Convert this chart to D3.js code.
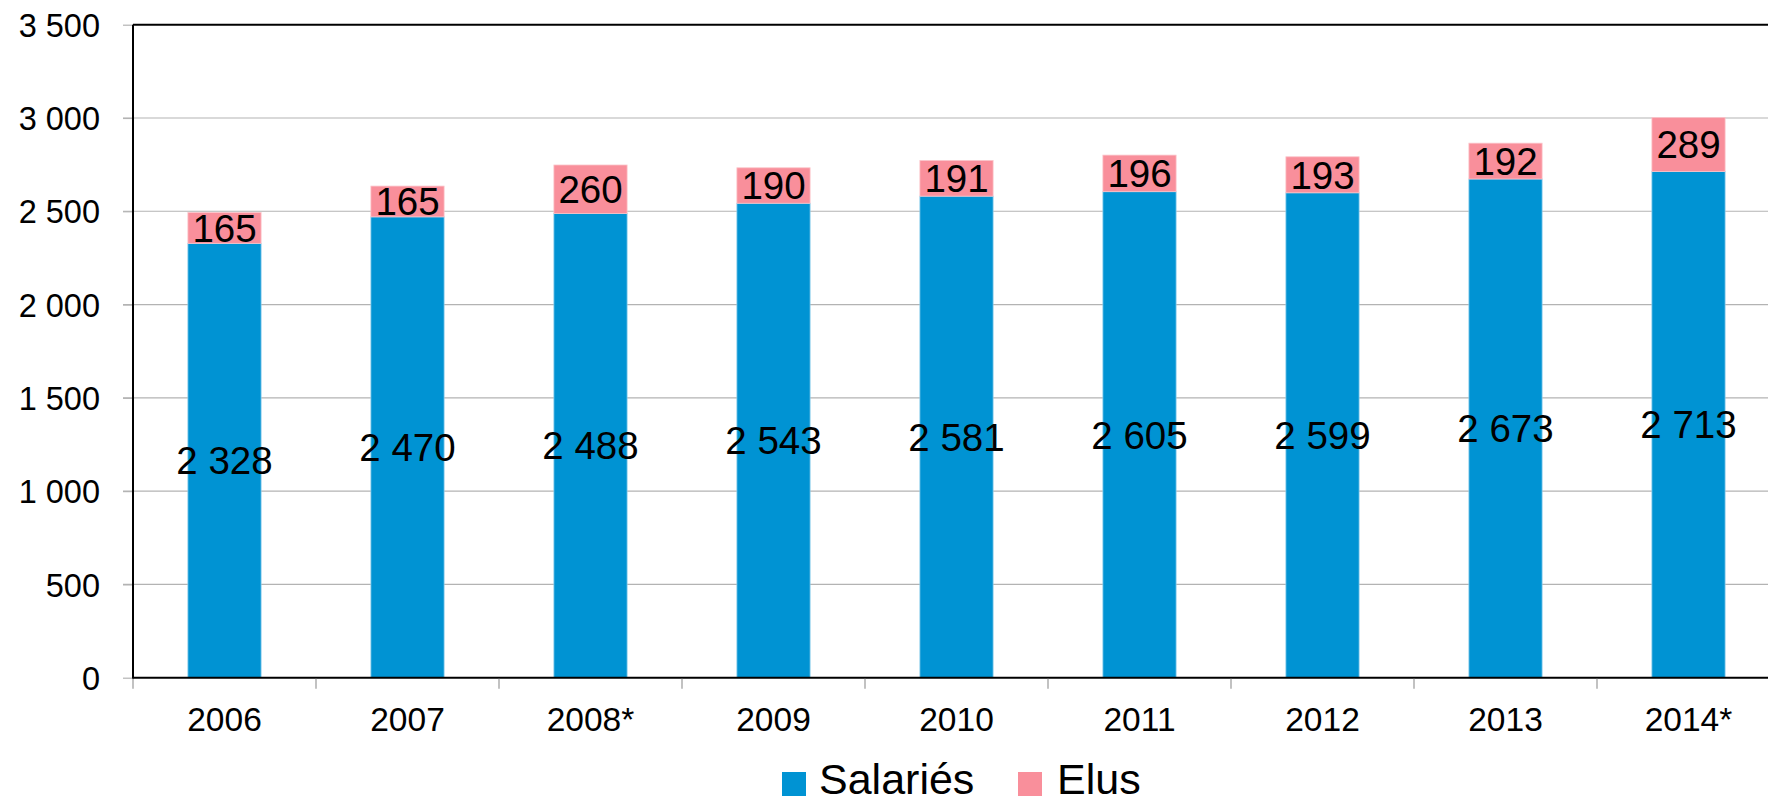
<!DOCTYPE html>
<html>
<head>
<meta charset="utf-8">
<script src="https://cdn.jsdelivr.net/npm/d3@7"></script>
<style>
  html, body { margin: 0; padding: 0; background: #ffffff; overflow: hidden; }
  svg { display: block; font-family: "Liberation Sans", Arial, sans-serif; }
</style>
</head>
<body>
<svg id="chart" width="1768" height="802"></svg>
<script>
const categories = ["2006", "2007", "2008*", "2009", "2010", "2011", "2012", "2013", "2014*"];
const salaries = [2328, 2470, 2488, 2543, 2581, 2605, 2599, 2673, 2713];
const elus = [165, 165, 260, 190, 191, 196, 193, 192, 289];
const yTicks = [0, 500, 1000, 1500, 2000, 2500, 3000, 3500];
const seriesNames = ["Salariés", "Elus"];
const seriesColors = ["#0093d3", "#f98f9b"];

(function () {
const svg = d3.select("#chart");
const mLeft = 133, mRight = 1780, mTop = 24.7, mBottom = 677.7;

const fr = d3.formatLocale({decimal: ",", thousands: " ", grouping: [3], currency: ["", " €"]});
const fmt = fr.format(",d");

const x = d3.scaleBand().domain(categories).range([mLeft, mRight]).paddingInner(0.6).paddingOuter(0.3);
const y = d3.scaleLinear().domain([0, 3500]).range([mBottom, mTop]);

// gridlines
svg.append("g")
  .selectAll("line").data(yTicks.filter(d => d > 0 && d < 3500)).join("line")
  .attr("x1", mLeft - 10).attr("x2", 1768)
  .attr("y1", d => y(d)).attr("y2", d => y(d))
  .attr("stroke", "#b3b3b3").attr("stroke-width", 1.2);

// y axis
const yAxis = svg.append("g").attr("transform", `translate(${mLeft},0)`)
  .call(d3.axisLeft(y).tickValues(yTicks).tickSize(10).tickPadding(23).tickFormat(fmt));
yAxis.select(".domain").remove();
yAxis.selectAll(".tick line").attr("stroke", "#b3b3b3").attr("stroke-width", 1.2);
yAxis.selectAll(".tick text").attr("font-size", 32.5).attr("fill", "#000")
  .attr("font-family", "Liberation Sans, Arial, sans-serif").attr("dy", "0.36em");

// stacked data
const data = categories.map((c, i) => ({cat: c, s: salaries[i], e: elus[i]}));

const barG = svg.append("g");
barG.selectAll("rect.sal").data(data).join("rect").attr("class", "sal")
  .attr("x", d => x(d.cat)).attr("width", x.bandwidth())
  .attr("y", d => y(d.s)).attr("height", d => y(0) - y(d.s))
  .attr("fill", seriesColors[0]).attr("stroke", "#8ccdec").attr("stroke-width", 0.8);
barG.selectAll("rect.elu").data(data).join("rect").attr("class", "elu")
  .attr("x", d => x(d.cat)).attr("width", x.bandwidth())
  .attr("y", d => y(d.s + d.e)).attr("height", d => y(d.s) - y(d.s + d.e))
  .attr("fill", seriesColors[1]).attr("stroke", "#fbc3c9").attr("stroke-width", 0.8);

// frame: top, left
svg.append("line").attr("x1", mLeft).attr("x2", 1768).attr("y1", y(3500)).attr("y2", y(3500))
  .attr("stroke", "#000").attr("stroke-width", 2);
svg.append("line").attr("x1", mLeft).attr("x2", mLeft).attr("y1", y(3500)).attr("y2", y(0) + 1)
  .attr("stroke", "#000").attr("stroke-width", 2);

// x axis
const xAxis = svg.append("g").attr("transform", `translate(0,${mBottom})`)
  .call(d3.axisBottom(x).tickSize(0).tickPadding(0));
xAxis.select(".domain").attr("d", `M${mLeft},0H1768`).attr("stroke", "#000").attr("stroke-width", 2);
xAxis.selectAll(".tick text").attr("font-size", 33.5).attr("fill", "#000")
  .attr("font-family", "Liberation Sans, Arial, sans-serif")
  .attr("y", 41).attr("dy", "0.36em");
// boundary ticks
const bounds = categories.map(c => x(c) - x.step() * x.paddingInner() / 2);
svg.append("g").selectAll("line").data(bounds).join("line")
  .attr("x1", d => d).attr("x2", d => d).attr("y1", mBottom + 1).attr("y2", mBottom + 11)
  .attr("stroke", "#999").attr("stroke-width", 1.2);

// data labels
const lblG = svg.append("g").attr("font-size", 38.5).attr("fill", "#000").attr("text-anchor", "middle");
lblG.selectAll("text.sal").data(data).join("text").attr("class", "sal")
  .attr("x", d => x(d.cat) + x.bandwidth() / 2)
  .attr("y", d => (y(0) + y(d.s)) / 2).attr("dy", "0.36em")
  .text(d => fmt(d.s));
lblG.selectAll("text.elu").data(data).join("text").attr("class", "elu")
  .attr("x", d => x(d.cat) + x.bandwidth() / 2)
  .attr("y", d => (y(d.s) + y(d.s + d.e)) / 2).attr("dy", "0.36em")
  .text(d => fmt(d.e));

// legend
const legendPos = [{sx: 782, tx: 819}, {sx: 1018, tx: 1057}];
const leg = svg.append("g");
seriesNames.forEach((n, i) => {
  leg.append("rect").attr("x", legendPos[i].sx).attr("y", 772).attr("width", 24).attr("height", 24)
    .attr("fill", seriesColors[i]);
  leg.append("text").attr("x", legendPos[i].tx).attr("y", 793.5).attr("font-size", 43)
    .attr("fill", "#000").text(n);
});
})();
</script>
</body>
</html>
